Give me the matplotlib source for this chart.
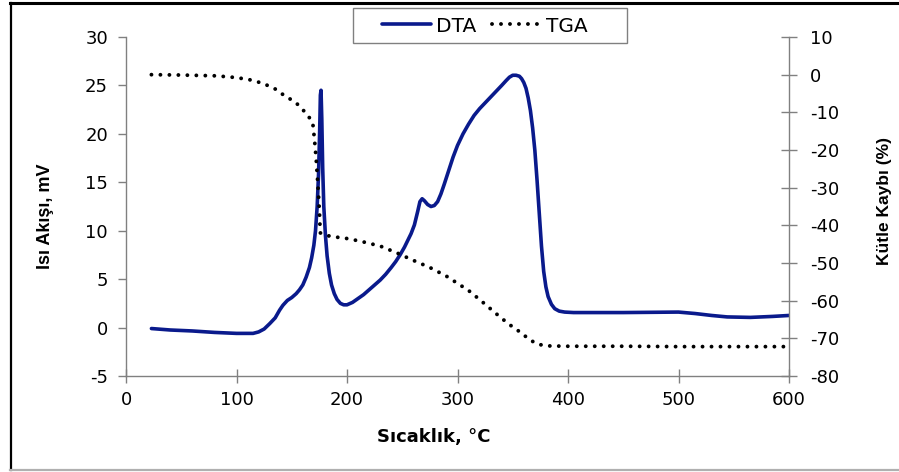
import matplotlib
matplotlib.use("Agg")
import matplotlib.pyplot as plt
from matplotlib.lines import Line2D
from matplotlib.patches import Rectangle

plt.rcParams['font.family'] = ['DejaVu Sans']
plt.rcParams['axes.unicode_minus'] = False

# DTA heat flow (mV) vs temperature (°C)
dta_temp = [23, 40, 60, 80, 100, 115, 120, 125, 130, 135, 139, 142, 146, 150, 154, 157, 160,
            163, 166, 168, 170, 171.5, 173, 174.3, 175.3, 175.9, 176.5, 177.2, 178, 179,
            180.5, 182, 184, 186, 188.5, 191, 194, 197, 200, 205, 210, 215, 220, 225, 230,
            235, 240, 244, 248, 252, 255, 258, 261, 264, 266, 268, 270, 273, 276, 279, 282,
            285, 288, 292, 296, 300, 305, 310, 315, 320, 325, 330, 335, 340, 344, 347, 350,
            353, 356, 358, 360, 362, 364, 366, 368, 370, 372, 374, 376, 378, 380, 382, 385,
            388, 392, 397, 405, 450, 500, 515, 530, 544, 565, 585, 600]
dta_val = [-0.1, -0.25, -0.35, -0.5, -0.6, -0.6, -0.45, -0.15, 0.4, 1.0, 1.8, 2.3, 2.8, 3.1,
           3.5, 3.9, 4.4, 5.2, 6.2, 7.2, 8.5, 10.0, 12.5, 16.0, 20.5, 24.0, 24.5, 21.5,
           16.5, 12.5, 9.5, 7.4, 5.6, 4.4, 3.5, 2.9, 2.5, 2.35, 2.35, 2.6, 3.0, 3.4, 3.9,
           4.4, 4.9, 5.5, 6.2, 6.8, 7.5, 8.3, 9.0, 9.7, 10.6, 12.0, 13.0, 13.3, 13.1, 12.7,
           12.5, 12.6, 13.0, 13.8, 14.8, 16.2, 17.6, 18.8, 20.0, 21.0, 21.9, 22.6, 23.2,
           23.8, 24.4, 25.0, 25.5, 25.85, 26.05, 26.05, 25.95, 25.7, 25.3, 24.7, 23.7, 22.4,
           20.6, 18.3, 15.2, 11.8, 8.4, 5.8, 4.2, 3.2, 2.4, 1.95, 1.7, 1.6, 1.55, 1.55,
           1.6, 1.45, 1.25, 1.1, 1.05, 1.15, 1.25]

# TGA mass loss (%) vs temperature (°C)
tga_temp = [23, 50, 80, 94, 110, 124, 135, 145, 150, 155, 160, 165, 169, 170.5, 172, 173.5,
            175, 175.8, 180, 187, 200, 212, 230, 245, 260, 275, 290, 300, 310, 320, 330,
            340, 350, 357, 365, 372, 380, 400, 450, 500, 550, 600]
tga_val = [0, -0.1, -0.3, -0.6, -1.2, -2.3, -3.8, -5.9, -6.7, -7.8, -9.3, -11.0, -12.8, -17.0,
           -22.0, -28.5, -36.0, -42.0, -42.6, -43.0, -43.5, -44.2, -45.5, -47.3, -49.3, -51.2,
           -53.5, -55.4, -57.3, -59.7, -62.2, -64.7, -67.0, -68.4, -70.3, -71.5, -72.0, -72.1,
           -72.1, -72.2, -72.2, -72.2]

x_ticks = [0, 100, 200, 300, 400, 500, 600]
left_ticks = [-5, 0, 5, 10, 15, 20, 25, 30]
right_ticks = [-80, -70, -60, -50, -40, -30, -20, -10, 0, 10]

spine_gray = '#808080'
fs = 13
W, H = 899, 472

fig = plt.figure(figsize=(W / 100, H / 100), dpi=100)
ax = fig.add_axes([126 / W, 1 - 376 / H, 663 / W, 339 / H])
ax2 = ax.twinx()

dta_line, = ax.plot(dta_temp, dta_val, color='#0a1a8c', lw=2.6,
                    solid_joinstyle='round', solid_capstyle='round')
tga_line, = ax2.plot(tga_temp, tga_val, color='black', lw=2.8,
                     linestyle=(0, (0.01, 2.3)), dash_capstyle='round')

ax.set_xlim(0, 600)
ax.set_ylim(-5, 30)
ax2.set_ylim(-80, 10)
ax.set_xticks(x_ticks)
ax.set_yticks(left_ticks)
ax2.set_yticks(right_ticks)

for a in (ax, ax2):
    a.spines['top'].set_visible(False)
    for s in a.spines.values():
        s.set_color(spine_gray)
        s.set_linewidth(1.0)
ax.spines['right'].set_visible(False)
ax2.spines['left'].set_visible(False)
ax2.spines['bottom'].set_visible(False)

ax.tick_params(axis='y', direction='out', length=6, width=1, color=spine_gray,
               labelsize=fs, pad=7)
ax.tick_params(axis='x', direction='inout', length=10, width=1, color=spine_gray,
               labelsize=fs, pad=6)
ax2.tick_params(axis='y', direction='inout', length=12, width=1, color=spine_gray,
                labelsize=fs, pad=9)

ax.set_xlabel('Sıcaklık, °C', fontsize=fs, fontweight='bold')
ax.xaxis.set_label_coords((434 - 126) / 663, (376 - 437) / 339)
ax.xaxis.label.set_va('center')
ax.set_ylabel('Isı Akışı, mV', fontsize=fs, fontweight='bold', family='Liberation Sans')
ax.yaxis.set_label_coords((45 - 126) / 663, (376 - 216) / 339)
ax.yaxis.label.set_va('center')
ax2.set_ylabel('Kütle Kaybı (%)', fontsize=12.5, fontweight='bold', family='Liberation Sans')
ax2.yaxis.set_label_coords((884 - 126) / 663, (376 - 201) / 339)
ax2.yaxis.label.set_va('center')

# legend entries without frame, box drawn around them
leg_fs = 14.5
leg = fig.legend([dta_line, tga_line], ['DTA', 'TGA'], ncol=2,
                 loc='center left', bbox_to_anchor=(382 / W, 1 - 26 / H), fontsize=leg_fs,
                 frameon=False, handlelength=2.45, handletextpad=0.25, columnspacing=0.75,
                 borderpad=0, borderaxespad=0)
fig.add_artist(Rectangle((353 / W, 1 - 43 / H), 274 / W, 35 / H, transform=fig.transFigure,
                         facecolor='white', edgecolor=spine_gray, lw=1.0, zorder=0.5))

# outer frame of the figure
fig.add_artist(Line2D([10.5 / W, 10.5 / W], [1 - 3 / H, 1 - 470 / H],
                      transform=fig.transFigure, color='black', lw=1.6))
fig.add_artist(Line2D([10 / W, 1.0], [1 - 3 / H, 1 - 3 / H],
                      transform=fig.transFigure, color='black', lw=2.2))
fig.add_artist(Line2D([10 / W, 1.0], [1 - 470 / H, 1 - 470 / H],
                      transform=fig.transFigure, color='#b0b0b0', lw=1.6))

fig.savefig('out.png', dpi=100)
